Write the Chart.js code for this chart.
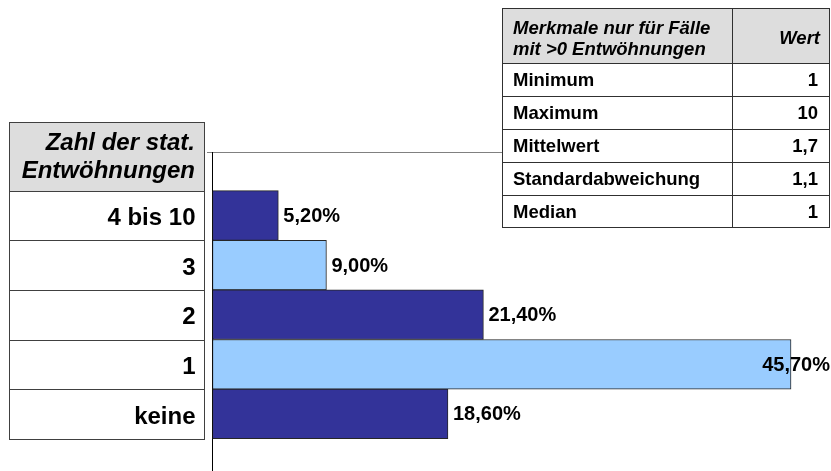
<!DOCTYPE html>
<html>
<head>
<meta charset="utf-8">
<script src="https://cdn.jsdelivr.net/npm/chart.js@4"></script>
<style>
html,body{margin:0;padding:0;background:#fff;}
canvas{display:block;}
</style>
</head>
<body>
<canvas id="c" width="831" height="471"></canvas>
<script>
const categories = ['4 bis 10', '3', '2', '1', 'keine'];
const shares = [5.2, 9.0, 21.4, 45.7, 18.6];
const axisTitle = ['Zahl der stat.', 'Entwöhnungen'];
const statHeader = ['Merkmale nur für Fälle', 'mit >0 Entwöhnungen'];
const valueHeader = 'Wert';
const statNames = ['Minimum', 'Maximum', 'Mittelwert', 'Standardabweichung', 'Median'];
const statValues = ['1', '10', '1,7', '1,1', '1'];

const FONT = '"Liberation Sans", Arial, Helvetica, sans-serif';
const DARK = '#333399';
const LIGHT = '#99CCFF';
const fmt = v => v.toFixed(2).replace('.', ',') + '%';

const bgPlugin = {
  id: 'bg',
  beforeDraw(chart) {
    const ctx = chart.ctx;
    ctx.save();
    ctx.fillStyle = '#fff';
    ctx.fillRect(0, 0, chart.width, chart.height);
    // left category table
    const y = chart.scales.y;
    const L = 9.5, R = 204.5, headTop = 122.5;
    const edges = [];
    for (let i = 0; i <= categories.length; i++) {
      edges.push(Math.round(y.getPixelForValue(i - 0.5)) + 0.5);
    }
    ctx.fillStyle = '#DDDDDD';
    ctx.fillRect(L, headTop, R - L, edges[0] - headTop);
    ctx.strokeStyle = '#404040';
    ctx.lineWidth = 1;
    ctx.strokeRect(L, headTop, R - L, edges[edges.length - 1] - headTop);
    ctx.beginPath();
    edges.slice(0, -1).forEach(e => { ctx.moveTo(L, e); ctx.lineTo(R, e); });
    ctx.stroke();
    // short lead-in of the top frame line
    ctx.strokeStyle = '#808080';
    ctx.beginPath();
    ctx.moveTo(207, chart.chartArea.top + 0.5);
    ctx.lineTo(chart.chartArea.left, chart.chartArea.top + 0.5);
    ctx.stroke();
    ctx.fillStyle = '#000';
    ctx.font = 'italic bold 24px ' + FONT;
    ctx.textAlign = 'right';
    ctx.textBaseline = 'alphabetic';
    ctx.fillText(axisTitle[0], 195, 150);
    ctx.fillText(axisTitle[1], 195, 177.5);
    ctx.restore();
  }
};

const labelPlugin = {
  id: 'barLabels',
  afterDatasetsDraw(chart) {
    const ctx = chart.ctx;
    const meta = chart.getDatasetMeta(0);
    ctx.save();
    ctx.font = 'bold 20px ' + FONT;
    ctx.fillStyle = '#000';
    ctx.textAlign = 'left';
    ctx.textBaseline = 'middle';
    meta.data.forEach((bar, i) => {
      const t = fmt(shares[i]);
      const w = ctx.measureText(t).width;
      const x = Math.min(bar.x + 5, chart.width - w - 1);
      ctx.fillText(t, x, bar.y + 1);
    });
    ctx.restore();
  }
};

const tablePlugin = {
  id: 'statTable',
  afterDraw(chart) {
    const ctx = chart.ctx;
    const L = 502.5, M = 732.5, R = 829.5;
    const rows = [8.5, 63.5, 96.5, 129.5, 162.5, 195.5, 227.5];
    ctx.save();
    ctx.fillStyle = '#fff';
    ctx.fillRect(L, rows[0], R - L, rows[rows.length - 1] - rows[0]);
    ctx.fillStyle = '#DDDDDD';
    ctx.fillRect(L, rows[0], R - L, rows[1] - rows[0]);
    ctx.strokeStyle = '#303030';
    ctx.lineWidth = 1;
    ctx.strokeRect(L, rows[0], R - L, rows[rows.length - 1] - rows[0]);
    ctx.beginPath();
    ctx.moveTo(M, rows[0]); ctx.lineTo(M, rows[rows.length - 1]);
    rows.slice(1, -1).forEach(r => { ctx.moveTo(L, r); ctx.lineTo(R, r); });
    ctx.stroke();
    ctx.fillStyle = '#000';
    ctx.textBaseline = 'alphabetic';
    ctx.font = 'italic bold 18.5px ' + FONT;
    ctx.textAlign = 'left';
    ctx.fillText(statHeader[0], 513, 33.5);
    ctx.fillText(statHeader[1], 513, 55);
    ctx.textAlign = 'right';
    ctx.fillText(valueHeader, 820, 43.5);
    ctx.textBaseline = 'middle';
    ctx.font = 'bold 18.5px ' + FONT;
    statNames.forEach((n, i) => {
      const cy = (rows[i + 1] + rows[i + 2]) / 2 + 1;
      ctx.textAlign = 'left';
      ctx.fillText(n, 513, cy);
      ctx.textAlign = 'right';
      ctx.fillText(statValues[i], 818, cy);
    });
    ctx.restore();
  }
};

new Chart(document.getElementById('c'), {
  type: 'bar',
  data: {
    datasets: [{
      data: shares.map((v, i) => ({ x: v, y: i })),
      backgroundColor: shares.map((v, i) => (i % 2 === 0 ? DARK : LIGHT)),
      borderColor: '#262626',
      borderWidth: 1,
      borderSkipped: false,
      barPercentage: 1,
      categoryPercentage: 1
    }]
  },
  options: {
    indexAxis: 'y',
    responsive: false,
    animation: false,
    devicePixelRatio: 1,
    layout: { padding: { top: 152, right: 2, bottom: 1, left: 0 } },
    plugins: { legend: { display: false }, tooltip: { enabled: false } },
    scales: {
      x: {
        type: 'linear',
        position: 'top',
        min: 0,
        max: 48.7,
        grid: { display: false, drawTicks: false },
        ticks: { display: false },
        border: { display: true, color: '#808080', width: 1 },
        afterFit(s) { s.height = 0; }
      },
      y: {
        type: 'linear',
        reverse: true,
        offset: false,
        bounds: 'data',
        min: -1.28,
        max: 5.13,
        grid: { display: false, drawTicks: false, offset: false },
        border: { display: true, color: '#000', width: 1 },
        afterBuildTicks(s) { s.ticks = categories.map((c, i) => ({ value: i })); },
        afterFit(s) { s.width = 212.5; s.paddingTop = 0; s.paddingBottom = 0; },
        ticks: {
          autoSkip: false,
          padding: 17,
          labelOffset: 3,
          color: '#000',
          font: { family: FONT, size: 24, weight: 'bold' },
          callback: v => categories[v]
        }
      }
    }
  },
  plugins: [bgPlugin, labelPlugin, tablePlugin]
});
</script>
</body>
</html>
